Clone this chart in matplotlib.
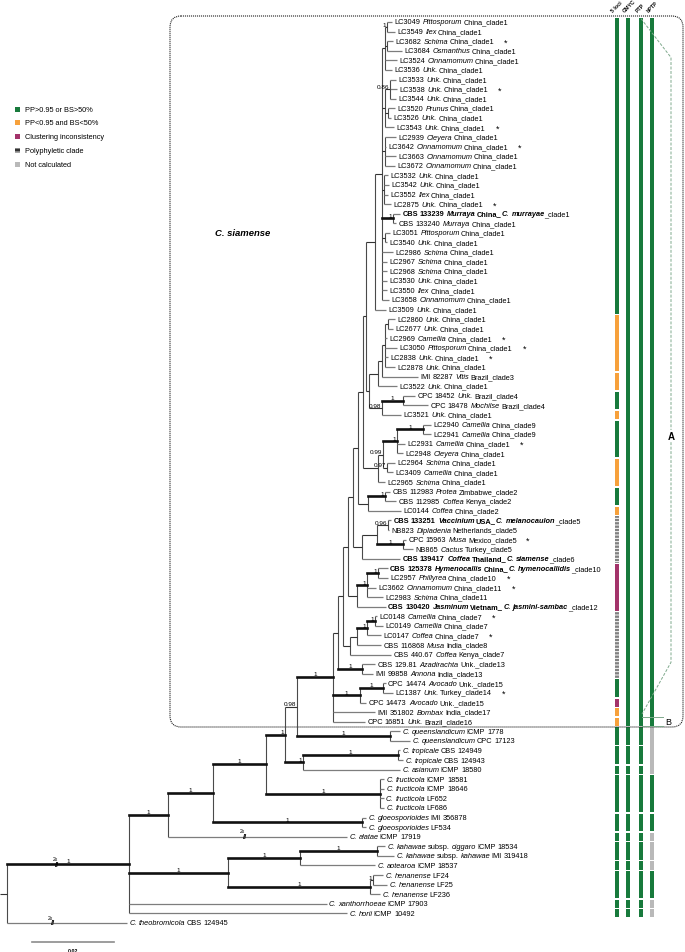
import matplotlib.pyplot as plt
import matplotlib.transforms as mtransforms
from matplotlib.collections import LineCollection
from matplotlib.patches import Rectangle, FancyBboxPatch

W, H, DPI = 685, 953, 100
X0_PX, PX_PER_UNIT = 7, 4.1      # root position, px per 0.001 subst./site
Y0_PX, PX_PER_LEAF = 23, 9.585
FS = 5.3
plt.rcParams['font.family'] = ['Liberation Sans', 'DejaVu Sans']
plt.rcParams['hatch.linewidth'] = 0.7

# ---- leaves: /italic/  #bold#
LABELS = [
    "LC3049 /Pittosporum/ China_clade1", "LC3549 /Ilex/ China_clade1",
    "LC3682 /Schima/ China_clade1", "LC3684 /Osmanthus/ China_clade1",
    "LC3524 /Cinnamomum/ China_clade1", "LC3536 /Unk./ China_clade1",
    "LC3533 /Unk./ China_clade1", "LC3538 /Unk./ China_clade1",
    "LC3544 /Unk./ China_clade1", "LC3520 /Prunus/ China_clade1",
    "LC3526 /Unk./ China_clade1", "LC3543 /Unk./ China_clade1",
    "LC2939 /Cleyera/ China_clade1", "LC3642 /Cinnamomum/ China_clade1",
    "LC3663 /Cinnamomum/ China_clade1", "LC3672 /Cinnamomum/ China_clade1",
    "LC3532 /Unk./ China_clade1", "LC3542 /Unk./ China_clade1",
    "LC3552 /Ilex/ China_clade1", "LC2875 /Unk./ China_clade1",
    "#CBS 133239 /Murraya/ China_/C. murrayae/#_clade1", "CBS 133240 /Murraya/ China_clade1",
    "LC3051 /Pittosporum/ China_clade1", "LC3540 /Unk./ China_clade1",
    "LC2986 /Schima/ China_clade1", "LC2967 /Schima/ China_clade1",
    "LC2968 /Schima/ China_clade1", "LC3530 /Unk./ China_clade1",
    "LC3550 /Ilex/ China_clade1", "LC3658 /Cinnamomum/ China_clade1",
    "LC3509 /Unk./ China_clade1", "LC2860 /Unk./ China_clade1",
    "LC2677 /Unk./ China_clade1", "LC2969 /Camellia/ China_clade1",
    "LC3050 /Pittosporum/ China_clade1", "LC2838 /Unk./ China_clade1",
    "LC2878 /Unk./ China_clade1", "IMI 82287 /Vitis/ Brazil_clade3",
    "LC3522 /Unk./ China_clade1", "CPC 18452 /Unk./ Brazil_clade4",
    "CPC 18478 /Mochilse/ Brazil_clade4", "LC3521 /Unk./ China_clade1",
    "LC2940 /Camellia/ China_clade9", "LC2941 /Camellia/ China_clade9",
    "LC2931 /Camellia/ China_clade1", "LC2948 /Cleyera/ China_clade1",
    "LC2964 /Schima/ China_clade1", "LC3409 /Camellia/ China_clade1",
    "LC2965 /Schima/ China_clade1", "CBS 112983 /Protea/ Zimbabwe_clade2",
    "CBS 112985 /Coffea/ Kenya_clade2", "LC0144 /Coffea/ China_clade2",
    "#CBS 133251 /Vaccinium/ USA_/C. melanocaulon/#_clade5", "NB823 /Dipladenia/ Netherlands_clade5",
    "CPC 15963 /Musa/ Mexico_clade5", "NB865 /Cactus/ Turkey_clade5",
    "#CBS 139417 /Coffea/ Thailand_/C. siamense/#_clade6",
    "#CBS 125378 /Hymenocallis/ China_/C. hymenocallidis/#_clade10",
    "LC2957 /Phillyrea/ China_clade10", "LC3662 /Cinnamomum/ China_clade11",
    "LC2983 /Schima/ China_clade11",
    "#CBS 130420 /Jasminum/ Vietnam_/C. jasmini-sambac/#_clade12",
    "LC0148 /Camellia/ China_clade7", "LC0149 /Camellia/ China_clade7",
    "LC0147 /Coffea/ China_clade7", "CBS 116868 /Musa/ India_clade8",
    "CBS 440.67 /Coffea/ Kenya_clade7", "CBS 129.81 /Azadirachta/ Unk._clade13",
    "IMI 99858 /Annona/ India_clade13", "CPC 14474 /Avocado/ Unk._clade15",
    "LC1387 /Unk./ Turkey_clade14", "CPC 14473 /Avocado/ Unk._clade15",
    "IMI 351802 /Bombax/ India_clade17", "CPC 16851 /Unk./ Brazil_clade16",
    "/C. queenslandicum/ ICMP 1778", "/C. queenslandicum/ CPC 17123",
    "/C. tropicale/ CBS 124949", "/C. tropicale/ CBS 124943",
    "/C. asianum/ ICMP 18580", "/C. fructicola/ ICMP 18581",
    "/C. fructicola/ ICMP 18646", "/C. fructicola/ LF652",
    "/C. fructicola/ LF686", "/C. gloeosporioides/ IMI 356878",
    "/C. gloeosporioides/ LF534", "/C. alatae/ ICMP 17919",
    "/C. kahawae/ subsp. /ciggaro/ ICMP 18534", "/C. kahawae/ subsp. /kahawae/ IMI 319418",
    "/C. aotearoa/ ICMP 18537", "/C. henanense/ LF24",
    "/C. henanense/ LF25", "/C. henanense/ LF236",
    "/C. xanthorrhoeae/ ICMP 17903", "/C. horii/ ICMP 10492",
    "/C. theobromicola/ CBS 124945",
]
STARRED = [2, 7, 11, 13, 19, 33, 34, 35, 44, 54, 58, 59, 62, 64, 70]

# tip depth from root (x 0.001 subst./site)
TIP_DEPTH = [
    93.9, 94.6, 94.1, 96.3, 95.1, 93.9, 94.9, 95.1, 94.9, 94.6, 93.7, 94.4,
    94.9, 92.4, 94.9, 94.6, 92.9, 93.2, 92.9, 93.7, 95.9, 94.9, 93.4, 92.7,
    94.1, 92.7, 92.7, 92.7, 92.7, 93.2, 92.4,
    94.6, 94.1, 92.7, 95.1, 92.9, 94.6, 100.2, 95.1, 99.5, 102.7, 96.1,
    103.4, 103.4, 97.1, 96.6, 94.6, 94.1, 92.2, 93.4, 94.9, 96.1,
    93.7, 93.2, 97.3, 99.0, 95.9, 92.9, 92.9, 90.0, 91.7, 92.4,
    90.2, 91.7, 91.2, 91.2, 93.7, 89.8, 89.3, 92.4, 94.1, 87.6, 89.8, 87.3,
    95.9, 98.3, 95.9, 96.6, 95.9, 92.0, 92.0, 91.9, 92.0,
    87.6, 87.6, 82.9, 92.2, 94.4, 89.8, 91.7, 92.7, 91.0, 78.0, 82.9, 29.3,
]
ROOT_STUB = 1.7

# node: (name, depth, support, children); int = leaf index
SIAM = ('siam', 79.5, 1, [
    ('U', 80.7, None, [
        ('G6', 82.0, None, [
            ('G5', 83.2, None, [
                ('G4', 84.4, None, [
                    ('G3', 85.6, None, [
                        ('G2', 86.8, None, [
                            ('G1', 87.6, None, [
                                ('n375', 89.8, None, [
                                    ('c1', 91.5, None, [
                                        ('a1', 92.2, None, [('p1', 92.7, 1, [0, 1]), ('p2', 92.7, None, [2, 3]), 4, 5]),
                                        ('a2', 92.2, None, [('n086', 93.4, 0.86, [6, 7, 8]), ('p3', 92.9, None, [9, 10]), 11]),
                                        ('a3', 92.2, None, [12, 13, 14, 15]),
                                        ('a4', 92.0, None, [16, 17, 18, 19]),
                                        ('mur', 94.1, 1, [20, 21]),
                                        ('p4', 92.2, None, [22, 23]),
                                        24, 25, 26, 27, 28, 29,
                                    ]),
                                    30,
                                ]),
                                ('lowa', 88.3, None, [
                                    ('n378', 90.5, None, [
                                        ('n382', 91.5, None, [
                                            ('p386', 92.2, None, [('p5', 92.9, None, [31, 32]), 33, 34, 35, 36]),
                                            37,
                                        ]),
                                        38,
                                    ]),
                                    ('c4', 91.5, 0.98, [('c4p', 96.6, 1, [39, 40]), 41]),
                                ]),
                            ]),
                            ('n378b', 90.5, None, [
                                ('n099', 91.7, 0.99, [
                                    ('n397', 95.1, 1, [('c9', 101.5, 1, [42, 43]), 44, 45]),
                                    ('n097', 92.7, 0.97, [46, 47]),
                                ]),
                                48,
                            ]),
                        ]),
                        ('c2', 88.0, None, [('c2p', 92.2, 1, [49, 50]), 51]),
                    ]),
                    ('c5', 86.6, None, [
                        ('n377', 90.2, None, [('c5a', 92.9, 0.96, [52, 53]), ('c5b', 96.6, 1, [54, 55])]),
                        56,
                    ]),
                ]),
                ('c1012', 85.4, None, [
                    ('c1011', 87.8, 1, [('hym', 90.5, 1, [57, 58]), 59, 60]),
                    61,
                ]),
            ]),
            ('c78', 83.7, None, [
                ('c7', 85.4, None, [('c7a', 87.8, 1, [('c7b', 89.8, 1, [62, 63]), 64]), 65]),
                66,
            ]),
        ]),
        ('c13', 86.6, 1, [67, 68]),
    ]),
    ('av', 86.1, 1, [('av2', 91.7, 1, [69, 70]), 71]),
    72,
    73,
])

TREE = ('root', 0.0, None, [
    ('A', 29.8, 1, [
        ('B', 39.3, 1, [
            ('C', 50.2, 1, [
                ('D', 63.2, 1, [
                    ('E', 67.8, 1, [
                        ('F', 70.7, 0.98, [SIAM, ('queens', 93.4, 1, [74, 75])]),
                        ('G', 72.2, 1, [('trop', 95.4, 1, [76, 77]), 78]),
                    ]),
                    ('fruct', 91.0, 1, [79, 80, 81, 82]),
                ]),
                ('gloeo', 86.6, 1, [83, 84]),
            ]),
            85,
        ]),
        ('H', 53.9, 1, [
            ('I', 71.5, 1, [('kah', 90.2, 1, [86, 87]), 88]),
            ('hen', 88.5, 1, [('hen2', 89.3, 1, [89, 90]), 91]),
        ]),
        92,
        93,
    ]),
    94,
])

# branches drawn shortened (2x)
BREAKS = {'A': 12.2, 94: 11.2, 85: 58.0}

# delimitation columns: (first leaf, last leaf, category)
OUTGROUP_BLOCKS = [(74, 75), (76, 77), (78, 78), (79, 82), (83, 84), (85, 85),
                   (86, 87), (88, 88), (89, 91), (92, 92), (93, 93)]
COL_NAMES = ["5 loci", "GMYC", "PTP", "bPTP"]
COL1 = [(0, 30, 'G'), (31, 36, 'O'), (37, 38, 'O'), (39, 40, 'G'), (41, 41, 'O'),
        (42, 45, 'G'), (46, 48, 'O'), (49, 50, 'G'), (51, 51, 'O'), (52, 56, 'P'),
        (57, 61, 'M'), (62, 68, 'P'), (69, 70, 'G'), (71, 71, 'M'), (72, 72, 'O'),
        (73, 73, 'O')] + [(a, b, 'G') for a, b in OUTGROUP_BLOCKS]
COL2 = [(0, 73, 'G')] + [(a, b, 'G') for a, b in OUTGROUP_BLOCKS]
COL3 = [(0, 73, 'G')] + [(a, b, 'G') for a, b in OUTGROUP_BLOCKS]
COL4 = [(0, 73, 'G'), (74, 78, 'N'), (79, 82, 'G'), (83, 84, 'G'), (85, 85, 'N'),
        (86, 87, 'N'), (88, 88, 'N'), (89, 91, 'G'), (92, 92, 'N'), (93, 93, 'N')]
PTP_GROUPS = {'A': (0, 72), 'B': (73, 73)}

LEGEND = [("PP>0.95 or BS>50%", 'G'), ("PP<0.95 and BS<50%", 'O'),
          ("Clustering inconsistency", 'M'), ("Polyphyletic clade", 'P'),
          ("Not calculated", 'N')]
CAT_COLOR = {'G': '#187a3c', 'O': '#f7a13b', 'M': '#a3336a', 'P': '#808080', 'N': '#b9b9b9'}

# --------------------------------------------------------------
fig = plt.figure(figsize=(W / DPI, H / DPI), dpi=DPI)
ax = fig.add_axes([0, 0, 1, 1])
ax.set_xlim(-X0_PX / PX_PER_UNIT, (W - X0_PX) / PX_PER_UNIT)
ax.set_ylim((H - Y0_PX) / PX_PER_LEAF, -Y0_PX / PX_PER_LEAF)
ax.axis('off')
pxT = mtransforms.Affine2D().scale(1 / W, -1 / H).translate(0, 1) + ax.transAxes
colT = mtransforms.blended_transform_factory(pxT, ax.transData)

tip_segs, int_segs, thick_segs, vert_segs = [], [], [], []
supports, node_y = [], {}


def walk(node, pdepth):
    if isinstance(node, int):
        tip_segs.append([(pdepth, node), (TIP_DEPTH[node], node)])
        node_y[node] = (pdepth, float(node))
        return float(node)
    name, depth, sup, kids = node
    ys = [walk(k, depth) for k in kids]
    y = (ys[0] + ys[-1]) / 2
    vert_segs.append([(depth, ys[0]), (depth, ys[-1])])
    node_y[name] = (pdepth, y)
    if pdepth is not None:
        seg = [(pdepth, y), (depth, y)]
        blen = (depth - pdepth) * PX_PER_UNIT
        (thick_segs if sup == 1 and blen >= 7 else int_segs).append(seg)
        if sup is not None:
            supports.append((pdepth, depth, y, sup))
    return y


root_y = walk(TREE, None)
int_segs.append([(-ROOT_STUB, root_y), (0, root_y)])

ax.add_collection(LineCollection(vert_segs, colors='#4a4a4a', linewidths=0.8))
ax.add_collection(LineCollection(tip_segs, colors='#7d7d7d', linewidths=0.9))
ax.add_collection(LineCollection(int_segs, colors='#333333', linewidths=0.8))
ax.add_collection(LineCollection(thick_segs, colors='#111111', linewidths=1.9, capstyle='projecting'))

for pd, d, y, s in supports:
    txt = '1' if s == 1 else f'{s:g}'
    if (d - pd) * PX_PER_UNIT > 20:
        ax.annotate(txt, xy=((pd + d) / 2, y), xytext=(0, 0.6), textcoords='offset points',
                    ha='center', va='bottom', fontsize=4.6)
    else:
        ax.annotate(txt, xy=(d, y), xytext=(-0.6, 0.2), textcoords='offset points',
                    ha='right', va='bottom', fontsize=4.6)

for key, u in BREAKS.items():
    y = node_y[key][1]
    ax.text(u, y, '//', ha='center', va='center', fontsize=5.5, fontweight='bold')
    ax.annotate('2x', xy=(u, y), xytext=(-1.5, 2.5), textcoords='offset points',
                ha='center', va='bottom', fontsize=3.6)


def parse(markup):
    toks, cur, it, bd, sp = [], '', False, False, False
    for ch in markup:
        if ch in '/#':
            if cur:
                toks.append((cur, it, bd, sp))
                cur, sp = '', False
            if ch == '/':
                it = not it
            else:
                bd = not bd
        elif ch == ' ':
            if cur:
                toks.append((cur, it, bd, sp))
                cur = ''
            sp = True
        else:
            cur += ch
    if cur:
        toks.append((cur, it, bd, sp))
    return toks


def gap_pt(sp, it, prev_it):
    # ink-to-ink gap; italic slant shifts the visual edge
    if sp:
        g = 1.4 + (0.5 if it and not prev_it else 0) - (0.6 if prev_it and not it else 0)
    else:
        g = 0.1 + (0.1 if it and not prev_it else 0) - (0.3 if prev_it and not it else 0)
    return g


for i, lab in enumerate(LABELS):
    prev, prev_it = None, False
    for text, it, bd, sp in parse(lab):
        kw = dict(fontsize=FS, fontstyle='italic' if it else 'normal',
                  fontweight='bold' if bd else 'normal', ha='left', textcoords='offset points')
        if prev is None:
            prev = ax.annotate(text, xy=(TIP_DEPTH[i], i), xytext=(1.6, 0), va='center', **kw)
        else:
            prev = ax.annotate(text, xy=(1, 0), xycoords=prev,
                               xytext=(gap_pt(sp, it, prev_it), 0), va='bottom', **kw)
        prev_it = it
    if i in STARRED:
        ax.annotate('*', xy=(1, 0), xycoords=prev, xytext=(7, -1.2), textcoords='offset points',
                    ha='left', va='bottom', fontsize=6.5)

# scale bar: 0.02 subst./site
SB_START, SB_LEN = 6.1, 20.0
sb_y = len(LABELS) - 1 + 2.0
ax.plot([SB_START, SB_START + SB_LEN], [sb_y, sb_y], color='#8c8c8c', lw=1.2)
ax.text(SB_START + SB_LEN / 2, sb_y + 0.85, '0.02', ha='center', va='center', fontsize=3.8,
        fontweight='bold')

# delimitation columns
COL_X = [617, 628, 641, 652]
COL_W = 3.8
for cx, segs in zip(COL_X, [COL1, COL2, COL3, COL4]):
    for a, b, c in segs:
        r = Rectangle((cx - COL_W / 2, a - 0.42), COL_W, b - a + 0.84, transform=colT,
                      facecolor=CAT_COLOR[c], lw=0)
        if c == 'P':
            r.set_hatch('-----')
            r.set_edgecolor('white')
        ax.add_patch(r)
for cx, name in zip(COL_X, COL_NAMES):
    ax.text(cx - 3, 14, name, transform=pxT, rotation=45, rotation_mode='anchor',
            ha='left', va='bottom', fontsize=3.8, fontweight='bold')

# PTP groups A / B
a0, a1 = PTP_GROUPS['A']
dash = dict(color='#7fa98c', lw=0.7, ls=(0, (3, 1.6)), transform=colT)
ax.plot([COL_X[2], 671, 671, COL_X[2] + 1], [a0 - 0.35, a0 + 3.7, a1 - 5.2, a1 + 0.2], **dash)
ax.text(671, a0 + 0.6 * (a1 - a0), 'A', transform=colT, ha='center', va='center', fontsize=7,
        fontweight='bold', bbox=dict(facecolor='white', edgecolor='none', pad=0.5))
b0, _ = PTP_GROUPS['B']
for yy in (b0 - 0.5, b0 + 0.5):
    ax.plot([COL_X[2] + 1, 663], [yy, yy], color='#7fa98c', lw=0.7, transform=colT)
ax.text(665, b0, 'B', transform=colT, ha='left', va='center', fontsize=6.5)

# C. siamense clade box
ax.add_patch(FancyBboxPatch((170, 17), 513, 711, boxstyle='round,pad=0,rounding_size=11',
                            transform=pxT, fill=False, ec='#222222', lw=0.8, ls=(0, (1, 0.8))))
ax.text(215, 233, 'C. siamense', transform=pxT, ha='left', va='center', fontsize=6.8,
        fontweight='bold', fontstyle='italic')

# legend
for k, (lab, c) in enumerate(LEGEND):
    y = 110 + 13.9 * k
    r = Rectangle((15, y - 2.5), 5, 5, transform=pxT, facecolor=CAT_COLOR[c], lw=0)
    if c == 'P':
        r.set_hatch('----')
        r.set_edgecolor('white')
        r.set_facecolor('#333333')
    ax.add_patch(r)
    ax.text(25, y, lab, transform=pxT, ha='left', va='center', fontsize=FS)

fig.savefig('out.png', dpi=DPI)
